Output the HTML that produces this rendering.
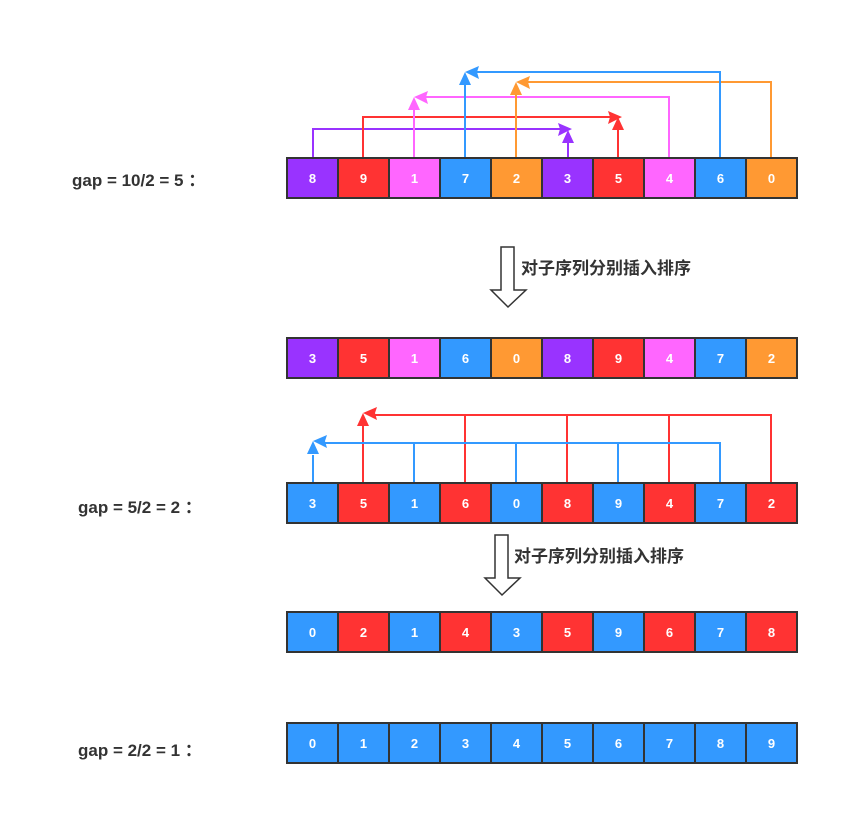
<!DOCTYPE html>
<html><head><meta charset="utf-8"><style>
body{margin:0;background:#fff}
text{font-family:"Liberation Sans","Noto Sans CJK SC",sans-serif;font-weight:bold}
</style></head><body>
<svg width="859" height="830" xmlns="http://www.w3.org/2000/svg">
<defs>
<g id="cellgrid"></g>
</defs>
<!-- labels -->
<text x="72" y="186" font-size="17" fill="#333">gap = 10/2 = 5 ：</text>
<text x="78" y="513" font-size="17" fill="#333">gap = 5/2 = 2 ：</text>
<text x="78" y="756" font-size="17" fill="#333">gap = 2/2 = 1 ：</text>

<!-- hollow arrows -->
<path d="M501,247 H514 V290 H526 L508,307 L491,290 H501 Z" fill="#fff" stroke="#333" stroke-width="1.5"/>
<text x="521" y="274" font-size="17" fill="#333">对子序列分别插入排序</text>
<path d="M495,535 H508 V578 H520 L502,595 L485,578 H495 Z" fill="#fff" stroke="#333" stroke-width="1.5"/>
<text x="514" y="562" font-size="17" fill="#333">对子序列分别插入排序</text>

<!-- row1 connectors -->
<g fill="none" stroke-width="2">
<polyline points="313,158 313,129 560,129" stroke="#9933ff"/>
<line x1="568" y1="158" x2="568" y2="140" stroke="#9933ff"/>
<polyline points="363,158 363,117 610,117" stroke="#ff3333"/>
<line x1="618" y1="158" x2="618" y2="128" stroke="#ff3333"/>
<polyline points="669,158 669,97 424,97" stroke="#ff66ff"/>
<line x1="414" y1="158" x2="414" y2="106" stroke="#ff66ff"/>
<polyline points="771,158 771,82 526,82" stroke="#ff9933"/>
<line x1="516" y1="158" x2="516" y2="92" stroke="#ff9933"/>
<polyline points="720,158 720,72 476,72" stroke="#3399ff"/>
<line x1="465" y1="158" x2="465" y2="82" stroke="#3399ff"/>
</g>
<g>
<polygon points="572,129 558,123 560,129 558,136" fill="#9933ff"/>
<polygon points="568,130 562,143 574,143" fill="#9933ff"/>
<polygon points="622,117 608,111 610,117 608,124" fill="#ff3333"/>
<polygon points="618,117 612,130 624,130" fill="#ff3333"/>
<polygon points="414,97 428,91 426,97 428,104" fill="#ff66ff"/>
<polygon points="414,97 408,110 420,110" fill="#ff66ff"/>
<polygon points="516,82 530,76 528,82 530,89" fill="#ff9933"/>
<polygon points="516,82 510,95 522,95" fill="#ff9933"/>
<polygon points="465,72 479,66 477,72 479,79" fill="#3399ff"/>
<polygon points="465,72 459,85 471,85" fill="#3399ff"/>
</g>

<!-- row3 connectors -->
<g fill="none" stroke-width="2">
<polyline points="771,483 771,415 375,415" stroke="#ff3333"/>
<line x1="465" y1="483" x2="465" y2="415" stroke="#ff3333"/>
<line x1="567" y1="483" x2="567" y2="415" stroke="#ff3333"/>
<line x1="669" y1="483" x2="669" y2="415" stroke="#ff3333"/>
<line x1="363" y1="483" x2="363" y2="425" stroke="#ff3333"/>
<polyline points="720,483 720,443 324,443" stroke="#3399ff"/>
<line x1="414" y1="483" x2="414" y2="443" stroke="#3399ff"/>
<line x1="516" y1="483" x2="516" y2="443" stroke="#3399ff"/>
<line x1="618" y1="483" x2="618" y2="443" stroke="#3399ff"/>
<line x1="313" y1="483" x2="313" y2="455" stroke="#3399ff"/>
</g>
<polygon points="363,413 377,407 375,413 377,420" fill="#ff3333"/>
<polygon points="363,413 357,426 369,426" fill="#ff3333"/>
<polygon points="313,441 327,435 325,441 327,448" fill="#3399ff"/>
<polygon points="313,441 307,454 319,454" fill="#3399ff"/>

<!-- cells -->
<g stroke="#333" stroke-width="2" font-size="13">
<!-- row1 -->
<g transform="translate(287,158)">
<rect x="0" width="51" height="40" fill="#9933ff"/><rect x="51" width="51" height="40" fill="#ff3333"/><rect x="102" width="51" height="40" fill="#ff66ff"/><rect x="153" width="51" height="40" fill="#3399ff"/><rect x="204" width="51" height="40" fill="#ff9933"/><rect x="255" width="51" height="40" fill="#9933ff"/><rect x="306" width="51" height="40" fill="#ff3333"/><rect x="357" width="51" height="40" fill="#ff66ff"/><rect x="408" width="51" height="40" fill="#3399ff"/><rect x="459" width="51" height="40" fill="#ff9933"/>
</g>
<g transform="translate(287,338)">
<rect x="0" width="51" height="40" fill="#9933ff"/><rect x="51" width="51" height="40" fill="#ff3333"/><rect x="102" width="51" height="40" fill="#ff66ff"/><rect x="153" width="51" height="40" fill="#3399ff"/><rect x="204" width="51" height="40" fill="#ff9933"/><rect x="255" width="51" height="40" fill="#9933ff"/><rect x="306" width="51" height="40" fill="#ff3333"/><rect x="357" width="51" height="40" fill="#ff66ff"/><rect x="408" width="51" height="40" fill="#3399ff"/><rect x="459" width="51" height="40" fill="#ff9933"/>
</g>
<g transform="translate(287,483)">
<rect x="0" width="51" height="40" fill="#3399ff"/><rect x="51" width="51" height="40" fill="#ff3333"/><rect x="102" width="51" height="40" fill="#3399ff"/><rect x="153" width="51" height="40" fill="#ff3333"/><rect x="204" width="51" height="40" fill="#3399ff"/><rect x="255" width="51" height="40" fill="#ff3333"/><rect x="306" width="51" height="40" fill="#3399ff"/><rect x="357" width="51" height="40" fill="#ff3333"/><rect x="408" width="51" height="40" fill="#3399ff"/><rect x="459" width="51" height="40" fill="#ff3333"/>
</g>
<g transform="translate(287,612)">
<rect x="0" width="51" height="40" fill="#3399ff"/><rect x="51" width="51" height="40" fill="#ff3333"/><rect x="102" width="51" height="40" fill="#3399ff"/><rect x="153" width="51" height="40" fill="#ff3333"/><rect x="204" width="51" height="40" fill="#3399ff"/><rect x="255" width="51" height="40" fill="#ff3333"/><rect x="306" width="51" height="40" fill="#3399ff"/><rect x="357" width="51" height="40" fill="#ff3333"/><rect x="408" width="51" height="40" fill="#3399ff"/><rect x="459" width="51" height="40" fill="#ff3333"/>
</g>
<g transform="translate(287,723)" fill="#3399ff">
<rect x="0" width="51" height="40"/><rect x="51" width="51" height="40"/><rect x="102" width="51" height="40"/><rect x="153" width="51" height="40"/><rect x="204" width="51" height="40"/><rect x="255" width="51" height="40"/><rect x="306" width="51" height="40"/><rect x="357" width="51" height="40"/><rect x="408" width="51" height="40"/><rect x="459" width="51" height="40"/>
</g>
</g>
<g fill="#fff" font-size="13" text-anchor="middle">
<g transform="translate(0,183)"><text x="312.5">8</text><text x="363.5">9</text><text x="414.5">1</text><text x="465.5">7</text><text x="516.5">2</text><text x="567.5">3</text><text x="618.5">5</text><text x="669.5">4</text><text x="720.5">6</text><text x="771.5">0</text></g>
<g transform="translate(0,363)"><text x="312.5">3</text><text x="363.5">5</text><text x="414.5">1</text><text x="465.5">6</text><text x="516.5">0</text><text x="567.5">8</text><text x="618.5">9</text><text x="669.5">4</text><text x="720.5">7</text><text x="771.5">2</text></g>
<g transform="translate(0,508)"><text x="312.5">3</text><text x="363.5">5</text><text x="414.5">1</text><text x="465.5">6</text><text x="516.5">0</text><text x="567.5">8</text><text x="618.5">9</text><text x="669.5">4</text><text x="720.5">7</text><text x="771.5">2</text></g>
<g transform="translate(0,637)"><text x="312.5">0</text><text x="363.5">2</text><text x="414.5">1</text><text x="465.5">4</text><text x="516.5">3</text><text x="567.5">5</text><text x="618.5">9</text><text x="669.5">6</text><text x="720.5">7</text><text x="771.5">8</text></g>
<g transform="translate(0,748)"><text x="312.5">0</text><text x="363.5">1</text><text x="414.5">2</text><text x="465.5">3</text><text x="516.5">4</text><text x="567.5">5</text><text x="618.5">6</text><text x="669.5">7</text><text x="720.5">8</text><text x="771.5">9</text></g>
</g>
</svg>
</body></html>
